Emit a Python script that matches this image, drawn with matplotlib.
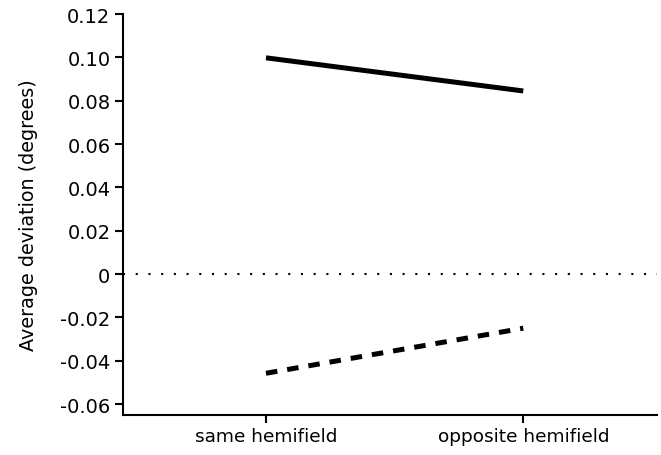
import matplotlib
matplotlib.use('Agg')
import matplotlib.pyplot as plt

conditions = ['same hemifield', 'opposite hemifield']
solid_vals = [0.0998, 0.0845]
dashed_vals = [-0.0458, -0.0250]
yticks = [-0.06, -0.04, -0.02, 0, 0.02, 0.04, 0.06, 0.08, 0.10, 0.12]
ytick_labels = ['-0.06', '-0.04', '-0.02', '0', '0.02', '0.04', '0.06', '0.08', '0.10', '0.12']

plt.rcParams['font.family'] = ['DejaVu Sans']

fig = plt.figure(figsize=(6.61, 4.56), dpi=100)
ax = fig.add_axes([0.186, 0.088, 0.808, 0.879])

x = list(range(len(conditions)))
ax.plot(x, solid_vals, color='black', lw=3.6, solid_capstyle='butt')
ax.plot(x, dashed_vals, color='black', lw=3.6, linestyle=(0, (2.3, 2.0)),
        dash_capstyle='butt')
ax.axhline(0, color='black', lw=1.5, linestyle=(0, (1, 5.1)))

ax.set_xlim(-0.556, 1.52)
ax.set_ylim(-0.065, 0.12)
ax.set_xticks(x)
ax.set_xticklabels(conditions, fontsize=13.3)
ax.set_yticks(yticks)
ax.set_yticklabels(ytick_labels, fontsize=14)
ax.set_ylabel('Average deviation (degrees)', fontsize=13.8, labelpad=16)

for s in ['top', 'right']:
    ax.spines[s].set_visible(False)
for s in ['left', 'bottom']:
    ax.spines[s].set_linewidth(1.5)
ax.spines['left'].set_bounds(-0.065, 0.12)
ax.tick_params(axis='both', direction='out', length=6, width=1.5, pad=3)

fig.savefig('out.png', dpi=100)
